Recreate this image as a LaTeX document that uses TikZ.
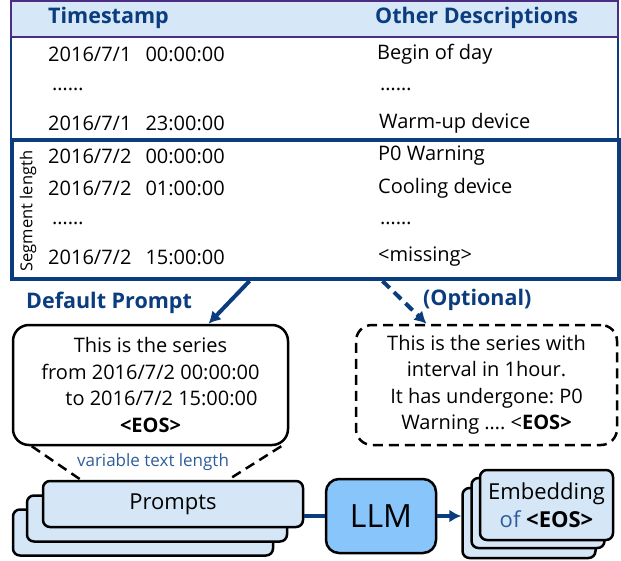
\documentclass[tikz,border=0pt]{standalone}
\usepackage{fontspec}
\setmainfont{Open Sans}
\frenchspacing
\usetikzlibrary{positioning,arrows.meta}
\definecolor{navy}{HTML}{0B3D7E}
\definecolor{headblue}{HTML}{D6E7F8}
\definecolor{headline}{HTML}{4B2E83}
\definecolor{boxblue}{HTML}{D5E6F7}
\definecolor{llmblue}{HTML}{87C5FA}
\definecolor{noteblue}{HTML}{2E5D9A}
\newcommand{\tgap}{\hspace{14pt}}
\tikzset{
 hd/.style
  = {inner sep=0pt, anchor=west, text=navy, font=\fontsize{21.5pt}{23pt}\selectfont\bfseries},
 cell/.style
  = {inner sep=0pt, anchor=west, font=\fontsize{20pt}{22pt}\selectfont},
 lbl/.style
  = {inner sep=0pt, anchor=west, text=navy, font=\fontsize{21.5pt}{23pt}\selectfont\bfseries},
 prm/.style
  = {rectangle, draw, line width=2.5pt, rounded corners=16pt, fill=white, align=center,
     minimum height=120pt, font=\fontsize{20pt}{26.5pt}\selectfont},
 pbox/.style
  = {rectangle, draw, line width=2.5pt, rounded corners=7pt, fill=boxblue,
     minimum width=260pt, minimum height=46pt, font=\fontsize{22pt}{24pt}\selectfont},
 ebox/.style
  = {rectangle, draw, line width=2.5pt, rounded corners=7pt, fill=boxblue, align=center,
     minimum width=133pt, minimum height=70pt, font=\fontsize{22pt}{28pt}\selectfont},
 dsh/.style
  = {line width=2.5pt, dash pattern=on 10pt off 6pt},
 link/.style
  = {draw=navy, line width=4pt, -{Latex[length=12pt,width=13pt]}},
}

\begin{document}
\begin{tikzpicture}[x=1pt,y=-1pt]
\useasboundingbox (0,0) rectangle (621,561);

% Table
\node[rectangle, draw=navy, line width=1.2pt, fill=white, minimum width=607pt, minimum height=103pt] (body) at (314.5,88.5) {};
\node[rectangle, draw=headline, line width=1.2pt, fill=headblue, minimum width=607pt, minimum height=36pt] (head) at (314.5,19) {};
\node[hd] (h1) at (48,18) {Timestamp};
\node[hd] (h2) at (375,18) {Other Descriptions};

\node[cell] (r1) at (48,54) {2016/7/1\tgap 00:00:00};
\node[cell] (d1) at (377,54) {Begin of day};
\node[cell] (r2) at (52,89) {……};
\node[cell] (d2) at (380,89) {……};
\node[cell] (r3) at (48,123) {2016/7/1\tgap 23:00:00};
\node[cell] (d3) at (379,123) {Warm-up device};

% Segment
\node[rectangle, draw=navy, line width=4pt, fill=white, minimum width=607pt, minimum height=139pt] (seg) at (315.5,209.5) {};
\node[rotate=90, inner sep=0pt, font=\fontsize{16.5pt}{18pt}\selectfont] (slen) at (28,211) {Segment length};
\node[cell] (r4) at (48,156) {2016/7/2\tgap 00:00:00};
\node[cell] (d4) at (378,156) {P0 Warning};
\node[cell] (r5) at (48,188) {2016/7/2\tgap 01:00:00};
\node[cell] (d5) at (378,188) {Cooling device};
\node[cell] (r6) at (52,223) {……};
\node[cell] (d6) at (380,223) {……};
\node[cell] (r7) at (48,257) {2016/7/2\tgap 15:00:00};
\node[cell] (d7) at (378,257) {<missing>};

% Prompt templates
\node[lbl] (dlab) at (26,303) {Default Prompt};
\node[lbl] (olab) at (423,300) {(Optional)};
\node[prm, minimum width=275pt] (dflt) at (150.5,385)
  {This is the series\\ from 2016/7/2 00:00:00\\ \hspace*{22pt}to 2016/7/2 15:00:00\\ \textbf{<EOS>}};
\node[prm, dsh, minimum width=261pt] (opt) at (486.5,385)
  {This is the series with\\ interval in 1hour.\\ It has undergone: P0\\ Warning …. <\textbf{EOS>}};

\draw[link] ([xshift=-66pt]seg.south) -- ([xshift=58pt]dflt.north);
\draw[link, dash pattern=on 10pt off 6pt] ([xshift=67pt]seg.south) -- ([xshift=-60pt]opt.north);

% Prompts stack
\node[pbox] (pr3) at (143,532.5) {};
\node[pbox] (pr2) at (157,518.5) {};
\node[pbox] (pr1) at (173,504) {Prompts};

\draw[dsh] ([xshift=20pt]dflt.south west) -- ([xshift=39pt]pr1.north west);
\draw[dsh] ([xshift=-8pt]dflt.south east) -- ([xshift=-76pt]pr1.north east);
\node[inner sep=0pt, text=noteblue, font=\fontsize{17pt}{19pt}\selectfont] (vlen) at (153,462) {variable text length};

% LLM
\node[rectangle, draw, line width=2.5pt, rounded corners=13pt, fill=llmblue, minimum width=110pt, minimum height=74pt,
  font=\fontsize{32pt}{34pt}\selectfont] (llm) at (381,516) {LLM};

% Embedding stack
\node[ebox] (emb3) at (529,523) {};
\node[ebox] (emb2) at (538,513) {};
\node[ebox] (emb1) at (546.5,505) {Embedding\\ {\color{noteblue}of} \textbf{<EOS>}};

\draw[draw=navy, line width=4pt] (llm.west) -- (llm.west -| pr1.east);
\draw[link] (llm.east) -- (llm.east -| emb3.west);

\end{tikzpicture}
\end{document}
